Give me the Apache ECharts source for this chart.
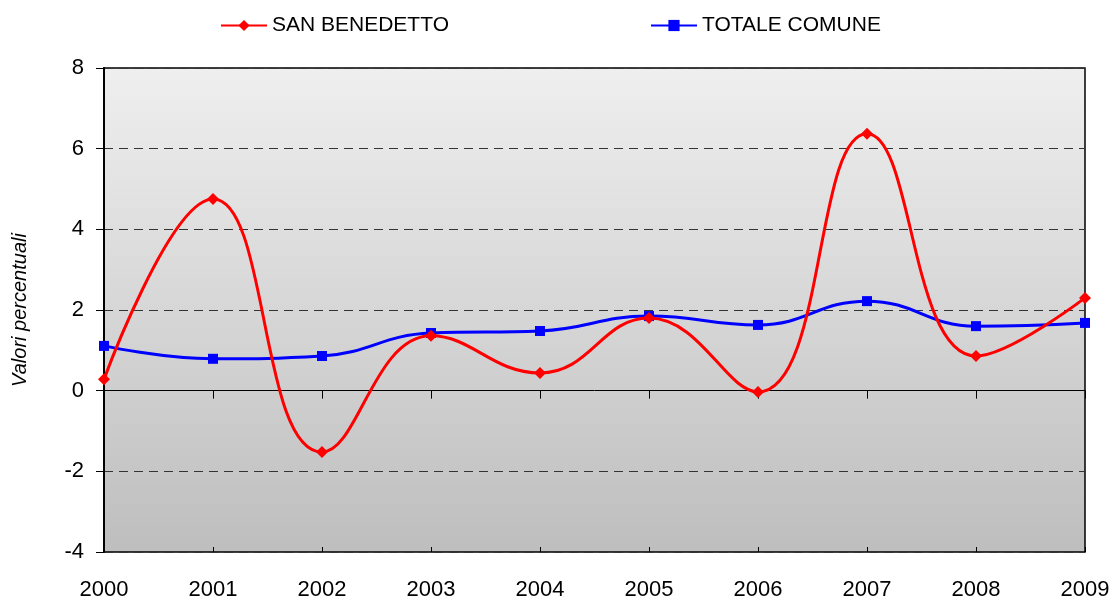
<!DOCTYPE html>
<html>
<head>
<meta charset="utf-8">
<script src="https://cdn.jsdelivr.net/npm/echarts@6/dist/echarts.min.js"></script>
<style>
  html, body { margin: 0; padding: 0; background: #fff; }
  #main { width: 1114px; height: 603px; }
</style>
</head>
<body>
<div id="main"></div>
<script>
// dati
var anni = ['2000', '2001', '2002', '2003', '2004', '2005', '2006', '2007', '2008', '2009']
var sanBenedetto = [0.28, 4.75, -1.52, 1.36, 0.44, 1.8, -0.03, 6.37, 0.86, 2.3]
var totaleComune = [1.11, 0.79, 0.86, 1.43, 1.48, 1.85, 1.63, 2.22, 1.6, 1.68]

var font = 'Liberation Sans, Arial, sans-serif'

var myChart = echarts.init(document.getElementById('main'))

myChart.setOption({
  backgroundColor: '#fff',
  animation: false,
  textStyle: { fontFamily: font },
  legend: {
    left: 215,
    top: 10,
    itemWidth: 46,
    itemHeight: 14,
    itemGap: 201,
    textStyle: { fontSize: 21, color: '#000', fontFamily: font },
    data: ['SAN BENEDETTO', 'TOTALE COMUNE']
  },
  grid: {
    left: 104,
    right: 29,
    top: 68,
    bottom: 51,
    show: true,
    borderColor: '#000',
    borderWidth: 1.5,
    backgroundColor: new echarts.graphic.LinearGradient(0, 0, 0, 1, [
      { offset: 0, color: '#efefef' },
      { offset: 1, color: '#bebebe' }
    ])
  },
  xAxis: [
    {
      type: 'category',
      data: anni,
      boundaryGap: false,
      axisLine: { show: false, onZero: false },
      axisTick: { show: false },
      axisLabel: { fontSize: 22, color: '#000', margin: 27, fontFamily: font },
      splitLine: { show: false }
    },
    {
      // linea dello zero con tacche
      type: 'category',
      data: anni,
      boundaryGap: false,
      position: 'bottom',
      axisLine: { show: true, onZero: true, lineStyle: { color: '#000', width: 1 } },
      axisTick: { show: true, length: 8, lineStyle: { color: '#000' } },
      axisLabel: { show: false }
    },
    {
      type: 'category',
      data: anni,
      boundaryGap: false,
      position: 'bottom',
      axisLine: { show: false, onZero: true },
      axisTick: { show: true, inside: true, length: 5, lineStyle: { color: '#000' } },
      axisLabel: { show: false }
    }
  ],
  yAxis: {
    type: 'value',
    min: -4,
    max: 8,
    interval: 2,
    name: 'Valori percentuali',
    nameLocation: 'middle',
    nameGap: 74,
    nameTextStyle: { fontSize: 20, fontStyle: 'italic', color: '#000', fontFamily: font },
    axisLine: { show: true, lineStyle: { color: '#000', width: 2 } },
    axisTick: { show: true, length: 8, lineStyle: { color: '#000' } },
    axisLabel: { fontSize: 22, color: '#000', margin: 20, fontFamily: font },
    splitLine: { show: true, lineStyle: { color: '#333', type: [9, 6], width: 1 } }
  },
  series: [
    {
      name: 'SAN BENEDETTO',
      type: 'line',
      data: sanBenedetto,
      smooth: 0.45,
      symbol: 'diamond',
      symbolSize: 12,
      itemStyle: { color: '#ff0000' },
      lineStyle: { color: '#ff0000', width: 3 },
      z: 3
    },
    {
      name: 'TOTALE COMUNE',
      type: 'line',
      data: totaleComune,
      smooth: 0.45,
      symbol: 'rect',
      symbolSize: 10,
      itemStyle: { color: '#0000ff' },
      lineStyle: { color: '#0000ff', width: 3 },
      z: 2
    }
  ]
})
</script>
</body>
</html>
